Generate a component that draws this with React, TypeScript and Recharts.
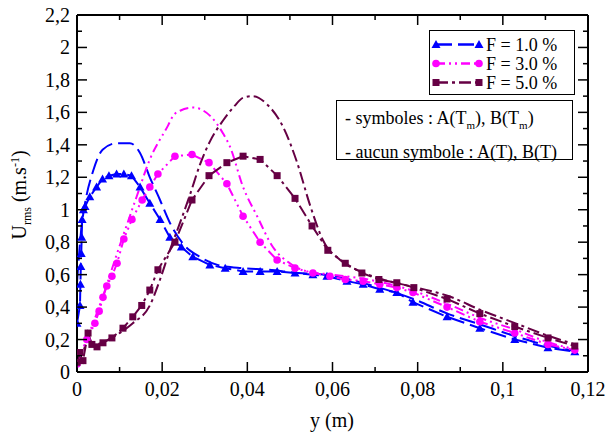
import { LineChart, Line, XAxis, YAxis } from 'recharts'

// F = 1.0 %, with symbols : A(Tm), B(Tm)
const f1TmX = [0, 0.0007, 0.0008, 0.0009, 0.001, 0.0011, 0.0012, 0.0015, 0.0019, 0.003, 0.0046, 0.006, 0.0075, 0.0093, 0.011, 0.0128, 0.0148, 0.0171, 0.0195, 0.0218, 0.0245, 0.0272, 0.0312, 0.0348, 0.039, 0.043, 0.047, 0.0512, 0.0554, 0.0587, 0.0634, 0.0672, 0.0711, 0.0751, 0.0789, 0.0869, 0.0946, 0.1028, 0.1106, 0.1169]
const f1TmY = [0.3, 0.41, 0.54, 0.65, 0.73, 0.83, 0.94, 1.0, 1.02, 1.08, 1.14, 1.19, 1.21, 1.22, 1.22, 1.21, 1.14, 1.04, 0.94, 0.83, 0.77, 0.71, 0.66, 0.64, 0.62, 0.62, 0.62, 0.61, 0.6, 0.59, 0.56, 0.54, 0.51, 0.49, 0.43, 0.34, 0.27, 0.2, 0.15, 0.125]

// F = 3.0 %, with symbols
const f3TmX = [0, 0.0023, 0.0042, 0.0052, 0.0061, 0.007, 0.0082, 0.0094, 0.011, 0.0129, 0.0153, 0.0171, 0.019, 0.023, 0.027, 0.031, 0.0352, 0.039, 0.043, 0.047, 0.0512, 0.0554, 0.0594, 0.063, 0.0672, 0.0711, 0.0751, 0.0789, 0.0869, 0.0946, 0.1028, 0.1106, 0.1169]
const f3TmY = [0.05, 0.2, 0.3, 0.375, 0.46, 0.53, 0.59, 0.67, 0.82, 0.94, 1.06, 1.14, 1.22, 1.33, 1.34, 1.29, 1.16, 0.96, 0.8, 0.69, 0.64, 0.61, 0.59, 0.57, 0.56, 0.54, 0.52, 0.49, 0.4, 0.31, 0.24, 0.17, 0.135]

// F = 5.0 %, with symbols
const f5TmX = [0, 0.0007, 0.0014, 0.0026, 0.0035, 0.0047, 0.0061, 0.0082, 0.0108, 0.0131, 0.0152, 0.0171, 0.019, 0.023, 0.027, 0.031, 0.0352, 0.039, 0.043, 0.047, 0.0512, 0.0552, 0.0589, 0.063, 0.0669, 0.0709, 0.0751, 0.0791, 0.0869, 0.0946, 0.1028, 0.1106, 0.1169]
const f5TmY = [0.06, 0.12, 0.07, 0.24, 0.17, 0.155, 0.18, 0.21, 0.27, 0.34, 0.41, 0.505, 0.63, 0.8, 1.06, 1.21, 1.29, 1.33, 1.31, 1.21, 1.07, 0.9, 0.75, 0.67, 0.61, 0.57, 0.55, 0.52, 0.45, 0.36, 0.28, 0.21, 0.16]

// no symbols : A(T), B(T)
const f1TX = [0, 0.001, 0.0019, 0.0038, 0.006, 0.0093, 0.0124, 0.0148, 0.0171, 0.0195, 0.0218, 0.0249, 0.0288, 0.033, 0.039, 0.045, 0.052, 0.058, 0.064, 0.071, 0.079, 0.087, 0.095, 0.103, 0.111, 0.117]
const f1TY = [0.55, 0.88, 1.04, 1.24, 1.37, 1.41, 1.41, 1.35, 1.2, 1.06, 0.92, 0.79, 0.71, 0.66, 0.64, 0.63, 0.61, 0.6, 0.57, 0.52, 0.45, 0.36, 0.29, 0.22, 0.16, 0.13]

const f3TX = [0, 0.0026, 0.006, 0.0094, 0.014, 0.0171, 0.0214, 0.0226, 0.0242, 0.0272, 0.0312, 0.0343, 0.0359, 0.039, 0.0423, 0.046, 0.05, 0.054, 0.06, 0.066, 0.072, 0.079, 0.087, 0.095, 0.103, 0.111, 0.117]
const f3TY = [0.05, 0.22, 0.46, 0.73, 1.08, 1.31, 1.52, 1.58, 1.61, 1.63, 1.58, 1.47, 1.39, 1.14, 0.96, 0.77, 0.67, 0.62, 0.6, 0.58, 0.55, 0.5, 0.42, 0.33, 0.26, 0.18, 0.14]

const f5TX = [0, 0.0014, 0.0026, 0.0042, 0.0066, 0.01, 0.0131, 0.0171, 0.0195, 0.0218, 0.0242, 0.0265, 0.0289, 0.0312, 0.0343, 0.037, 0.039, 0.0413, 0.0446, 0.0484, 0.0517, 0.0547, 0.0578, 0.0618, 0.0665, 0.0718, 0.0798, 0.087, 0.095, 0.103, 0.111, 0.117]
const f5TY = [0.05, 0.12, 0.2, 0.17, 0.19, 0.24, 0.3, 0.41, 0.57, 0.75, 0.92, 1.09, 1.28, 1.42, 1.55, 1.64, 1.69, 1.7, 1.65, 1.51, 1.29, 1.03, 0.81, 0.69, 0.62, 0.57, 0.52, 0.47, 0.38, 0.3, 0.22, 0.17]

const xTicks = [0, 0.01, 0.02, 0.03, 0.04, 0.05, 0.06, 0.07, 0.08, 0.09, 0.1, 0.11, 0.12]
const yTicks = [0, 0.1, 0.2, 0.3, 0.4, 0.5, 0.6, 0.7, 0.8, 0.9, 1, 1.1, 1.2, 1.3, 1.4, 1.5, 1.6, 1.7, 1.8, 1.9, 2, 2.1, 2.2]

const BLUE = '#0000ff'
const MAGENTA = '#ff00ff'
const PURPLE = '#660044'
const FONT = 'Liberation Serif, Times New Roman, Times, DejaVu Serif, serif'

const zip = (xs: number[], ys: number[]) => xs.map((x, i) => ({ x, y: ys[i] }))
const fmt = (v: number) => String(v).replace('.', ',')

const triPath = (cx: number, cy: number) =>
  `M${cx},${cy - 4.5}L${cx + 4.5},${cy + 3.5}L${cx - 4.5},${cy + 3.5}Z`

const Tri = (p: any) =>
  p.cx == null ? <g key={p.index} /> : <path key={p.index} d={triPath(p.cx, p.cy)} fill={BLUE} />
const Circ = (p: any) =>
  p.cx == null ? <g key={p.index} /> : <circle key={p.index} cx={p.cx} cy={p.cy} r={3.8} fill={MAGENTA} />
const Sq = (p: any) =>
  p.cx == null ? <g key={p.index} /> : (
    <rect key={p.index} x={p.cx - 3.5} y={p.cy - 3.5} width={7} height={7} fill={PURPLE} />
  )

const BottomTick = ({ x, y, payload }: any) => {
  const v = payload.value
  const major = Math.round(v * 100) % 2 === 0
  return (
    <g>
      <line x1={x} y1={y} x2={x} y2={y - (major ? 10 : 5)} stroke="#000" strokeWidth={1.5} />
      {major && (
        <text x={x} y={y + 17} textAnchor="middle" dominantBaseline="central" fontSize={20} style={{ fontFamily: FONT }} fill="#000">
          {fmt(v)}
        </text>
      )}
    </g>
  )
}

const TopTick = ({ x, y, payload }: any) => {
  const major = Math.round(payload.value * 100) % 2 === 0
  return <line x1={x} y1={y} x2={x} y2={y + (major ? 10 : 5)} stroke="#000" strokeWidth={1.5} />
}

const LeftTick = ({ x, y, payload }: any) => {
  const v = payload.value
  const major = Math.round(v * 10) % 2 === 0
  return (
    <g>
      <line x1={x} y1={y} x2={x + (major ? 10 : 5)} y2={y} stroke="#000" strokeWidth={1.5} />
      {major && (
        <text x={x - 7} y={y} textAnchor="end" dominantBaseline="central" fontSize={20} style={{ fontFamily: FONT }} fill="#000">
          {fmt(v)}
        </text>
      )}
    </g>
  )
}

const RightTick = ({ x, y, payload }: any) => {
  const major = Math.round(payload.value * 10) % 2 === 0
  return <line x1={x} y1={y} x2={x - (major ? 10 : 5)} y2={y} stroke="#000" strokeWidth={1.5} />
}

const legendItems = [
  { label: 'F = 1.0 %', color: BLUE, dash: '16 6', mark: 'tri' },
  { label: 'F = 3.0 %', color: MAGENTA, dash: '9 4 2 4 2 4', mark: 'circ' },
  { label: 'F = 5.0 %', color: PURPLE, dash: '12 4 3 4', mark: 'sq' },
]

function LegendMark({ mark, color, cx, cy }: { mark: string; color: string; cx: number; cy: number }) {
  if (mark === 'tri') return <path d={triPath(cx, cy)} fill={color} />
  if (mark === 'circ') return <circle cx={cx} cy={cy} r={3.8} fill={color} />
  return <rect x={cx - 3.5} y={cy - 3.5} width={7} height={7} fill={color} />
}

export default function App() {
  const axisLine = { stroke: '#000', strokeWidth: 2 }
  return (
    <div style={{ position: 'absolute', left: 0, top: 0, width: 606, height: 439, background: '#fff', fontFamily: FONT }}>
      <LineChart width={606} height={439} margin={{ top: 5, right: 8, bottom: 0, left: 0 }}>
        <XAxis
          dataKey="x"
          type="number"
          domain={[0, 0.12]}
          ticks={xTicks}
          interval={0}
          height={67}
          tickSize={0}
          tickMargin={0}
          tickLine={false}
          axisLine={axisLine}
          tick={BottomTick}
          allowDataOverflow
        />
        <XAxis
          xAxisId="top"
          orientation="top"
          dataKey="x"
          type="number"
          domain={[0, 0.12]}
          ticks={xTicks}
          interval={0}
          height={10}
          tickSize={0}
          tickMargin={0}
          tickLine={false}
          axisLine={axisLine}
          tick={TopTick}
          allowDataOverflow
        />
        <YAxis
          type="number"
          domain={[0, 2.2]}
          ticks={yTicks}
          interval={0}
          width={77}
          tickSize={0}
          tickMargin={0}
          tickLine={false}
          axisLine={axisLine}
          tick={LeftTick}
          allowDataOverflow
        />
        <YAxis
          yAxisId="right"
          orientation="right"
          type="number"
          domain={[0, 2.2]}
          ticks={yTicks}
          interval={0}
          width={10}
          tickSize={0}
          tickMargin={0}
          tickLine={false}
          axisLine={axisLine}
          tick={RightTick}
          allowDataOverflow
        />
        <Line data={zip(f1TX, f1TY)} dataKey="y" type="monotone" stroke={BLUE} strokeWidth={2} strokeDasharray="16 6" dot={false} activeDot={false} isAnimationActive={false} />
        <Line data={zip(f3TX, f3TY)} dataKey="y" type="monotone" stroke={MAGENTA} strokeWidth={2} strokeDasharray="9 4 2 4 2 4" dot={false} activeDot={false} isAnimationActive={false} />
        <Line data={zip(f5TX, f5TY)} dataKey="y" type="monotone" stroke={PURPLE} strokeWidth={2} strokeDasharray="12 4 3 4" dot={false} activeDot={false} isAnimationActive={false} />
        <Line data={zip(f1TmX, f1TmY)} dataKey="y" type="linear" stroke={BLUE} strokeWidth={2} strokeDasharray="16 6" dot={Tri} activeDot={false} isAnimationActive={false} />
        <Line data={zip(f3TmX, f3TmY)} dataKey="y" type="linear" stroke={MAGENTA} strokeWidth={2} strokeDasharray="9 4 2 4 2 4" dot={Circ} activeDot={false} isAnimationActive={false} />
        <Line data={zip(f5TmX, f5TmY)} dataKey="y" type="linear" stroke={PURPLE} strokeWidth={2} strokeDasharray="12 4 3 4" dot={Sq} activeDot={false} isAnimationActive={false} />
      </LineChart>

      {/* axis titles */}
      <div
        style={{
          position: 'absolute',
          left: 21,
          top: 195,
          transform: 'translate(-50%, -50%) rotate(-90deg)',
          whiteSpace: 'nowrap',
          fontSize: 20,
          lineHeight: 1,
        }}
      >
        U<sub style={{ fontSize: 12 }}>rms</sub> (m.s<sup style={{ fontSize: 12 }}>-1</sup>)
      </div>
      <div style={{ position: 'absolute', left: 332, top: 420, transform: 'translate(-50%, -50%)', fontSize: 20, lineHeight: 1, whiteSpace: 'nowrap' }}>
        y (m)
      </div>

      {/* series legend */}
      <div style={{ position: 'absolute', left: 429, top: 30, width: 144, height: 63, border: '1.5px solid #000', background: '#fff' }}>
        {legendItems.map((it, i) => (
          <div key={it.label} style={{ position: 'absolute', left: 0, top: 4 + i * 19, height: 19, display: 'flex', alignItems: 'center' }}>
            <svg width={54} height={19} style={{ display: 'block' }}>
              <line x1={6} y1={9.5} x2={49} y2={9.5} stroke={it.color} strokeWidth={2.5} strokeDasharray={it.dash} />
              <LegendMark mark={it.mark} color={it.color} cx={6} cy={9.5} />
              <LegendMark mark={it.mark} color={it.color} cx={49} cy={9.5} />
            </svg>
            <span style={{ fontSize: 18, lineHeight: 1, marginLeft: 2, whiteSpace: 'nowrap' }}>{it.label}</span>
          </div>
        ))}
      </div>

      {/* symbol legend */}
      <div
        style={{
          position: 'absolute',
          left: 336,
          top: 100,
          width: 237,
          height: 60,
          border: '1.5px solid #000',
          background: '#fff',
          fontSize: 18,
          lineHeight: '27px',
          paddingLeft: 8,
          paddingTop: 4,
          boxSizing: 'border-box',
          whiteSpace: 'nowrap',
        }}
      >
        <div>
          - symboles : A(T<sub style={{ fontSize: 11 }}>m</sub>), B(T<sub style={{ fontSize: 11 }}>m</sub>)
        </div>
        <div>- aucun symbole : A(T), B(T)</div>
      </div>
    </div>
  )
}
